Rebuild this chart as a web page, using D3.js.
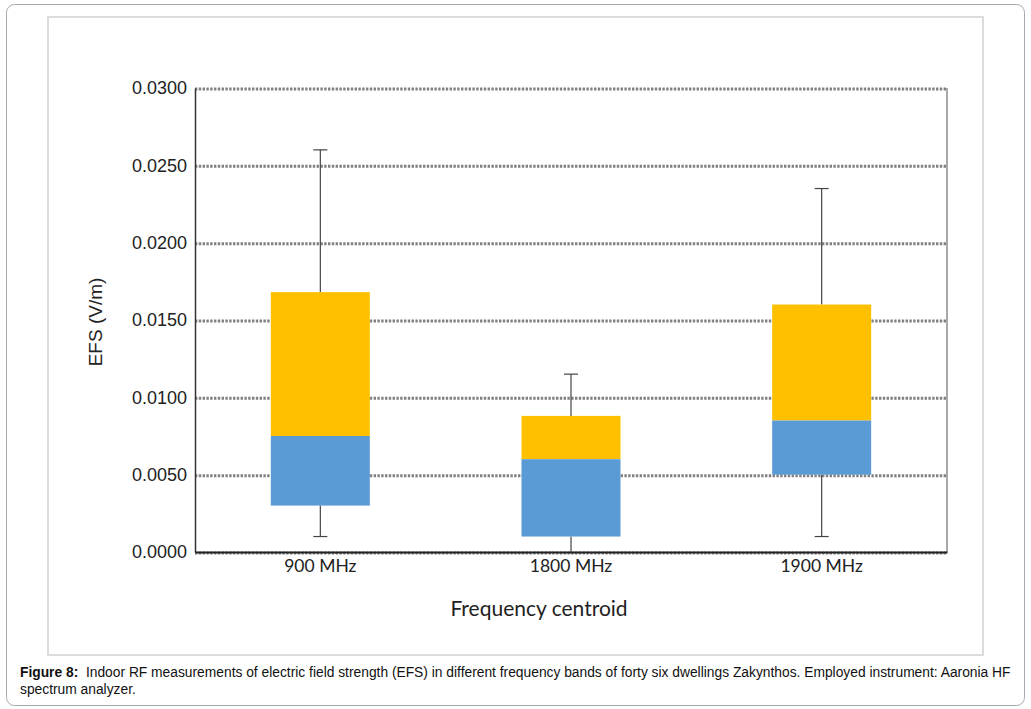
<!DOCTYPE html>
<html>
<head>
<meta charset="utf-8">
<script src="https://cdn.jsdelivr.net/npm/d3@7"></script>
<style>
  body { margin: 0; background: #fff; }
  svg { display: block; }
</style>
</head>
<body>
<div class="chart"></div>
<script>
// values (V/m)
const bands = ["900 MHz", "1800 MHz", "1900 MHz"];
const whiskerLow = [0.0010, 0.0000, 0.0010];
const boxLow = [0.0030, 0.0010, 0.0050];
const median = [0.0075, 0.0060, 0.0085];
const boxHigh = [0.0168, 0.0088, 0.0160];
const whiskerHigh = [0.0260, 0.0115, 0.0235];
const yTicks = [0, 0.005, 0.01, 0.015, 0.02, 0.025, 0.03];

let width = 1031,
    height = 709;

const plot = { left: 195, right: 947, top: 88, bottom: 552 };

let svg = d3.select(".chart").append("svg")
    .attr("width", width)
    .attr("height", height);

// outer frame + inner panel
svg.append("rect")
    .attr("x", 6.5).attr("y", 4.5)
    .attr("width", 1018).attr("height", 701)
    .attr("rx", 8)
    .style("fill", "none")
    .style("stroke", "#a9a9a9");

svg.append("rect")
    .attr("x", 48).attr("y", 17)
    .attr("width", 935).attr("height", 638)
    .style("fill", "none")
    .style("stroke", "#dcdcdc")
    .style("stroke-width", 2);

let x = d3.scaleBand()
    .domain(bands)
    .range([plot.left, plot.right]);

let y = d3.scaleLinear()
    .domain([0, 0.03])
    .range([plot.bottom, plot.top]);

// gridlines
svg.append("g").selectAll("line")
    .data(yTicks)
    .join("line")
    .attr("x1", plot.left)
    .attr("x2", plot.right)
    .attr("y1", d => y(d) + 1)
    .attr("y2", d => y(d) + 1)
    .style("stroke", "#808080")
    .style("stroke-width", 3)
    .style("stroke-dasharray", "2.4,1.4");

// frame: right side gray, left + bottom dark
svg.append("line")
    .attr("x1", plot.right).attr("x2", plot.right)
    .attr("y1", plot.top).attr("y2", plot.bottom)
    .style("stroke", "#8c8c8c").style("stroke-width", 1.5);

let yAxis = svg.append("g")
    .attr("transform", `translate(${plot.left},0)`)
    .call(d3.axisLeft(y).tickValues(yTicks).tickFormat(d3.format(".4f")).tickSize(0).tickPadding(8));
yAxis.select(".domain").style("stroke", "#333").style("stroke-width", 1.5);
yAxis.selectAll("text")
    .style("font-family", "'Liberation Sans', Arial, sans-serif")
    .style("font-size", "18px")
    .style("fill", "#222");

let xAxis = svg.append("g")
    .attr("transform", `translate(0,${plot.bottom})`)
    .call(d3.axisBottom(x).tickSize(0).tickPadding(8));
xAxis.select(".domain").style("stroke", "#222").style("stroke-width", 1.8);
xAxis.selectAll("text")
    .style("font-family", "Lato, sans-serif")
    .style("font-size", "17.5px")
    .style("fill", "#222");

const boxW = 99;
const capW = 14;

bands.forEach((b, i) => {
    let cx = x(b) + x.bandwidth() / 2;
    let g = svg.append("g");

    // whiskers
    g.append("line")
        .attr("x1", cx).attr("x2", cx)
        .attr("y1", y(whiskerHigh[i])).attr("y2", y(boxHigh[i]))
        .style("stroke", "#444").style("stroke-width", 1.2);
    g.append("line")
        .attr("x1", cx).attr("x2", cx)
        .attr("y1", y(boxLow[i])).attr("y2", y(whiskerLow[i]))
        .style("stroke", "#444").style("stroke-width", 1.2);
    g.append("line")
        .attr("x1", cx - capW / 2).attr("x2", cx + capW / 2)
        .attr("y1", y(whiskerHigh[i])).attr("y2", y(whiskerHigh[i]))
        .style("stroke", "#444").style("stroke-width", 1.2);
    if (whiskerLow[i] > 0) {
        g.append("line")
            .attr("x1", cx - capW / 2).attr("x2", cx + capW / 2)
            .attr("y1", y(whiskerLow[i])).attr("y2", y(whiskerLow[i]))
            .style("stroke", "#444").style("stroke-width", 1.2);
    }

    // upper box (median -> q3) and lower box (q1 -> median)
    g.append("rect")
        .attr("x", cx - boxW / 2)
        .attr("y", y(boxHigh[i]))
        .attr("width", boxW)
        .attr("height", y(median[i]) - y(boxHigh[i]))
        .style("fill", "#ffc000");
    g.append("rect")
        .attr("x", cx - boxW / 2)
        .attr("y", y(median[i]))
        .attr("width", boxW)
        .attr("height", y(boxLow[i]) - y(median[i]))
        .style("fill", "#5b9bd5");
});

// axis titles
svg.append("text")
    .attr("x", 539).attr("y", 616)
    .attr("text-anchor", "middle")
    .style("font-family", "Lato, sans-serif")
    .style("font-size", "21px")
    .style("fill", "#222")
    .text("Frequency centroid");

svg.append("text")
    .attr("transform", "translate(102,322) rotate(-90)")
    .attr("text-anchor", "middle")
    .style("font-family", "'Liberation Sans', Arial, sans-serif")
    .style("font-size", "19px")
    .style("fill", "#222")
    .text("EFS (V/m)");

// caption
let cap = svg.append("text")
    .attr("x", 20).attr("y", 677)
    .style("font-family", "'Liberation Sans', Arial, sans-serif")
    .style("font-size", "13.8px")
    .style("fill", "#111");
cap.append("tspan").style("font-weight", "bold").text("Figure 8:");
cap.append("tspan").text("\u00a0 Indoor RF measurements of electric field strength (EFS) in different frequency bands of forty six dwellings Zakynthos. Employed instrument: Aaronia HF");

svg.append("text")
    .attr("x", 20).attr("y", 694)
    .style("font-family", "'Liberation Sans', Arial, sans-serif")
    .style("font-size", "13.8px")
    .style("fill", "#111")
    .text("spectrum analyzer.");
</script>
</body>
</html>
